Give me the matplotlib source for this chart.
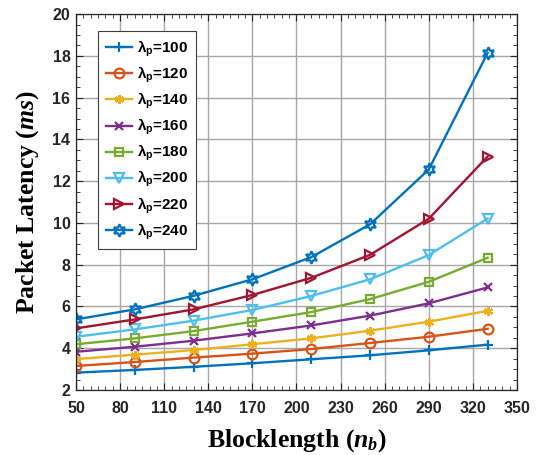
import matplotlib
matplotlib.use("Agg")
import matplotlib.pyplot as plt
from matplotlib.ticker import MultipleLocator, FixedLocator

plt.rcParams['font.family'] = 'Liberation Sans'
plt.rcParams['font.weight'] = 'bold'
plt.rcParams['mathtext.fontset'] = 'custom'
plt.rcParams['mathtext.rm'] = 'Liberation Sans:bold'
plt.rcParams['mathtext.it'] = 'Liberation Serif:bold:italic'
plt.rcParams['mathtext.bf'] = 'Liberation Sans:bold'

x = [50, 90, 130, 170, 210, 250, 290, 330]
lam_labels = [100, 120, 140, 160, 180, 200, 220, 240]
y100 = [2.83, 2.96, 3.11, 3.28, 3.47, 3.66, 3.90, 4.17]
y120 = [3.15, 3.34, 3.55, 3.74, 3.96, 4.25, 4.55, 4.93]
y140 = [3.48, 3.69, 3.91, 4.19, 4.47, 4.84, 5.27, 5.79]
y160 = [3.83, 4.07, 4.36, 4.71, 5.09, 5.56, 6.15, 6.91]
y180 = [4.19, 4.47, 4.82, 5.27, 5.73, 6.35, 7.18, 8.33]
y200 = [4.55, 4.90, 5.32, 5.83, 6.50, 7.30, 8.46, 10.21]
y220 = [4.95, 5.38, 5.86, 6.55, 7.37, 8.47, 10.20, 13.18]
y240 = [5.38, 5.86, 6.51, 7.30, 8.36, 9.93, 12.56, 18.14]
series = [y100, y120, y140, y160, y180, y200, y220, y240]
xticks = [50, 80, 110, 140, 170, 200, 230, 260, 290, 320, 350]
yticks = [2, 4, 6, 8, 10, 12, 14, 16, 18, 20]

colors = ['#0072BD', '#D95319', '#EDB120', '#7E2F8E', '#77AC30', '#4DBEEE', '#A2142F', '#0072BD']
markers = ['+', 'o', (6, 2, 0), 'x', 's', 'v', '>', (6, 1, 0)]
msizes = [7, 7, 6.5, 5.5, 6, 7.5, 7.5, 9]

fig = plt.figure(figsize=(5.41, 4.55), dpi=100)
ax = fig.add_axes([0.1405, 0.1429, 0.8151, 0.8261])

for ys, lam, c, m, ms in zip(series, lam_labels, colors, markers, msizes):
    filled = m in ['+', 'x', (6, 2, 0)]
    ax.plot(x, ys, color=c, lw=1.7, marker=m, ms=ms, mew=1.6,
            markerfacecolor=c if filled else 'none',
            label=r'$\mathrm{\lambda_p}$=%d' % lam)

ax.set_xlim(50, 350)
ax.set_ylim(2, 20)
ax.xaxis.set_major_locator(FixedLocator(xticks))
ax.xaxis.set_minor_locator(MultipleLocator(5))
ax.yaxis.set_major_locator(FixedLocator(yticks))
ax.yaxis.set_minor_locator(MultipleLocator(0.5))
ax.tick_params(which='both', direction='in', top=True, right=True, color='#262626',
               labelsize=11.5, labelcolor='#262626')
ax.tick_params(which='major', length=5, width=0.8)
ax.tick_params(which='minor', length=3, width=0.6)
ax.tick_params(axis='x', pad=8)
ax.tick_params(axis='y', pad=4)
ax.grid(True, which='major', color='#a8a8a8', lw=1.0)
ax.set_axisbelow(True)
for s in ax.spines.values():
    s.set_color('#262626')
    s.set_linewidth(0.9)

ax.set_xlabel(r'Blocklength ($n_b$)', fontfamily='Liberation Serif', fontweight='bold',
              fontsize=18.5, labelpad=8)
ax.set_ylabel(r'Packet Latency ($ms$)', fontfamily='Liberation Serif', fontweight='bold',
              fontsize=18.5, labelpad=8)

leg = ax.legend(loc='upper left', bbox_to_anchor=(0.05, 0.955), borderaxespad=0,
                prop={'family': 'Liberation Sans', 'weight': 'bold', 'size': 11},
                fancybox=False, framealpha=1, edgecolor='#404040',
                handlelength=1.75, labelspacing=0.38, handletextpad=0.3, borderpad=0.5)
leg.get_frame().set_linewidth(0.8)

fig.savefig('out.png', dpi=100)
